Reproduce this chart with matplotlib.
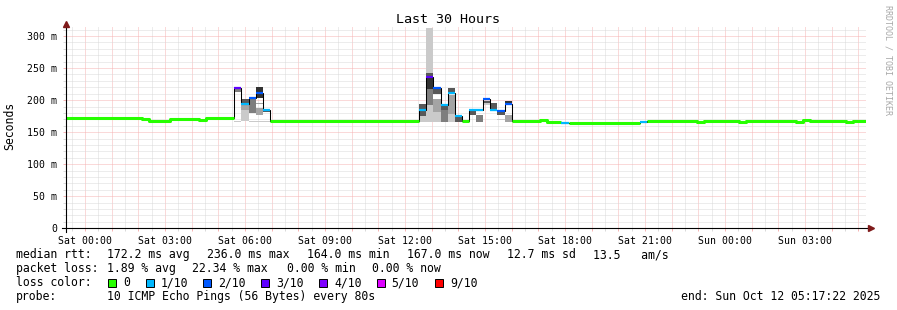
import numpy as np
import matplotlib
matplotlib.use("Agg")
import matplotlib.pyplot as plt
import matplotlib.dates as mdates
from matplotlib.lines import Line2D
from matplotlib.patches import Rectangle
from matplotlib.ticker import FuncFormatter, MultipleLocator

plt.rcParams['font.family'] = ['DejaVu Sans Mono']

W, H = 897, 310

# time range and 16 minute consolidation bins
t_start = np.datetime64('2025-10-10T23:17:22')
t_end = np.datetime64('2025-10-12T05:17:22')
bin_first = np.datetime64('2025-10-10T23:12')
bin_minutes = 16

# median rtt per bin (ms)
median = [172.0, 172.0, 172.0, 172.0, 172.0, 172.0, 172.0, 172.0, 172.0, 172.0,
          172.0, 170.6, 167.2, 167.2, 167.2, 169.8, 169.8, 169.8, 170.0, 169.2,
          171.3, 171.3, 171.3, 171.3, 219.0, 194.0, 203.0, 211.0, 184.0, 167.0,
          167.0, 167.0, 167.0, 167.0, 167.0, 167.0, 167.0, 167.0, 167.0, 167.0,
          167.0, 167.0, 167.0, 167.0, 167.0, 167.0, 167.0, 167.0, 167.0, 167.0,
          184.0, 236.0, 219.0, 193.0, 211.0, 175.0, 168.0, 184.0, 184.0, 201.0,
          184.0, 183.0, 194.0, 167.0, 167.0, 167.0, 167.0, 168.7, 166.4, 165.4,
          165.0, 164.0, 164.0, 164.0, 164.0, 164.0, 164.0, 164.0, 164.0, 164.0,
          164.0, 166.0, 167.0, 167.0, 167.0, 167.0, 167.0, 167.0, 167.0, 166.5,
          167.0, 167.0, 167.0, 167.0, 167.0, 166.5, 167.0, 167.0, 167.0, 167.0,
          167.0, 167.0, 167.0, 166.4, 168.7, 167.0, 167.0, 167.0, 167.0, 167.0,
          166.5, 167.0, 167.0]

# bins with packet loss (number of lost pings out of 10)
loss_bin = [24, 25, 26, 27, 28, 50, 51, 52, 53, 54, 55, 57, 58, 59, 60, 61, 62, 70, 81]
loss_lost = [3, 1, 2, 2, 1, 1, 3, 2, 1, 1, 1, 1, 1, 2, 1, 2, 2, 1, 1]

# smoke bands: bin, low ms, high ms, shade (0 = outer ping pair ... 4 = inner pair)
smoke_bin = [24, 24, 25, 25, 25, 26, 26, 27, 27, 27, 27, 28, 28,
             50, 50, 50, 51, 51, 51, 51, 51, 52, 52, 52, 53, 53,
             54, 54, 54, 55, 57, 58, 59, 59, 60, 61, 61, 62, 62]
smoke_lo = [213, 166.5, 195, 184, 168, 180, 166.5, 204, 194.5, 177, 166.5, 181, 166.5,
            185, 175, 166, 242, 236, 218, 192, 166, 209, 181, 166, 184.5, 166,
            213, 178, 166, 166, 177, 166, 196, 192, 186, 177, 168.5, 196, 166]
smoke_hi = [217, 168, 201.5, 192, 184, 202, 168, 221, 196, 188, 168, 183, 168,
            194, 183, 175, 312, 242, 235, 218, 192, 217, 201.5, 181, 191, 184.5,
            219, 208, 178, 174, 183, 177, 199, 195, 196, 182, 170, 199, 177]
smoke_shade = [2, 0, 3, 1, 0, 2, 0, 4, 1, 1, 0, 3, 0,
               3, 3, 0, 0, 3, 4, 2, 0, 3, 1, 0, 3, 2,
               3, 1, 0, 3, 3, 2, 3, 0, 3, 3, 0, 4, 1]

loss_labels = ['0', '1/10', '2/10', '3/10', '4/10', '5/10', '9/10']
loss_levels = [0, 1, 2, 3, 4, 5, 9]
loss_colors = ['#26ff00', '#00b8ff', '#0059ff', '#5e00ff', '#7e00ff', '#dd00ff', '#ff0000']
shade_colors = ['#cacaca', '#a4a4a4', '#7e7e7e', '#585858', '#323232']

n = len(median)
med = np.array(median)
loss = np.zeros(n, dtype=int)
loss[loss_bin] = loss_lost
edges_dt = bin_first + np.arange(n + 1) * np.timedelta64(bin_minutes, 'm')
edges = mdates.date2num(edges_dt)
width = edges[1] - edges[0]


def fx(x):
    return x / W


def fy(y):
    return 1 - y / H


fig = plt.figure(figsize=(W / 100, H / 100), dpi=100)
ax = fig.add_axes([fx(66), fy(228.3), 800 / W, (228.3 - 26) / H])

# smoke
for b, lo, hi, s in zip(smoke_bin, smoke_lo, smoke_hi, smoke_shade):
    ax.bar(edges[b], hi - lo, width=width, bottom=lo, align='edge',
           color=shade_colors[s], linewidth=0, zorder=2)

# median as thin black step line
ax.stairs(med, edges, baseline=None, color='black', linewidth=0.75, zorder=3)

# loss coloured median line: green steps, loss marks as flat pieces only
green = np.where(loss == 0, med, np.nan)
ax.step(edges, np.append(green, green[-1]), where='post', color=loss_colors[0],
        linewidth=2.2, zorder=4, solid_capstyle='butt')
for lvl, col in zip(loss_levels[1:], loss_colors[1:]):
    sel = np.where(loss == lvl)[0]
    if len(sel) == 0:
        continue
    ax.hlines(med[sel], edges[sel], edges[sel + 1], color=col, linewidth=1.6, zorder=4)

ax.set_xlim(mdates.date2num(t_start), mdates.date2num(t_end))
ax.set_ylim(0, (228.3 - 26) / 0.641)

# grid
ax.xaxis.set_major_locator(mdates.HourLocator())
ax.xaxis.set_minor_locator(mdates.MinuteLocator(byminute=[30]))


def xlabel(v, pos):
    d = mdates.num2date(v)
    return d.strftime('%a %H:%M') if d.hour % 3 == 0 else ''


ax.xaxis.set_major_formatter(FuncFormatter(xlabel))
ax.yaxis.set_major_locator(MultipleLocator(50))
ax.yaxis.set_minor_locator(MultipleLocator(10))
ax.yaxis.set_major_formatter(FuncFormatter(lambda v, p: '0' if v == 0 else '%d m' % v))

major_c = '#f6b4b4'
minor_c = '#dadada'
ax.set_axisbelow(True)
ax.grid(which='major', color=major_c, linestyle=(0, (1, 1)), linewidth=0.72)
ax.grid(which='minor', color=minor_c, linestyle=(0, (1, 1)), linewidth=0.72)
ax.tick_params(which='major', length=2.5, width=0.72, color=major_c, labelsize=7.1, pad=3)
ax.tick_params(which='minor', length=2, width=0.72, color=minor_c)
ax.tick_params(axis='y', which='major', pad=4)
for s in ax.spines.values():
    s.set_visible(False)

# axes with arrows
fig.add_artist(Line2D([fx(62), fx(870)], [fy(228.3), fy(228.3)], color='black', lw=0.8))
fig.add_artist(Line2D([fx(66), fx(66)], [fy(232), fy(25)], color='black', lw=0.8))
fig.add_artist(Line2D([fx(871)], [fy(228.3)], marker='>', markersize=4, color='#7f1a1a'))
fig.add_artist(Line2D([fx(66)], [fy(23.5)], marker='^', markersize=4, color='#7f1a1a'))

# titles
fig.text(fx(448), fy(23.3), 'Last 30 Hours', ha='center', va='baseline', fontsize=9.6)
fig.text(fx(10), fy(126), 'Seconds', rotation=90, ha='center', va='center', fontsize=8.3)
fig.text(fx(888), fy(5), 'RRDTOOL / TOBI OETIKER', rotation=270, ha='center', va='top',
         fontsize=6, color='#a8a8a8')

# legend
fs = 8.3
rows = [
    (258.3, [(16, 'median rtt:'), (107.3, '172.2 ms avg'), (207.3, '236.0 ms max'),
             (307.3, '164.0 ms min'), (407.3, '167.0 ms now'), (507.3, '12.7 ms sd'),
             (593.3, '13.5   am/s')]),
    (272.3, [(16, 'packet loss:'), (107.3, '1.89 % avg'), (192.3, '22.34 % max'),
             (286.7, '0.00 % min'), (372.3, '0.00 % now')]),
    (286.3, [(16, 'loss color:')]),
    (300.3, [(16, 'probe:'), (107.3, '10 ICMP Echo Pings (56 Bytes) every 80s')]),
]
for y, items in rows:
    for x, s in items:
        fig.text(fx(x), fy(y), s, ha='left', va='baseline', fontsize=fs)

sq_x = [108.3, 146, 203.3, 261, 319, 376.7, 435]
for x, lab, col in zip(sq_x, loss_labels, loss_colors):
    fig.add_artist(Rectangle((fx(x), fy(286.5)), 8 / W, 8 / H, facecolor=col,
                             edgecolor='black', linewidth=0.7))
    fig.text(fx(x + 15), fy(286.3), lab, ha='left', va='baseline', fontsize=fs)

fig.text(fx(880), fy(300.3), 'end: Sun Oct 12 05:17:22 2025', ha='right', va='baseline',
         fontsize=fs)

fig.savefig('out.png', dpi=100, facecolor='white')
